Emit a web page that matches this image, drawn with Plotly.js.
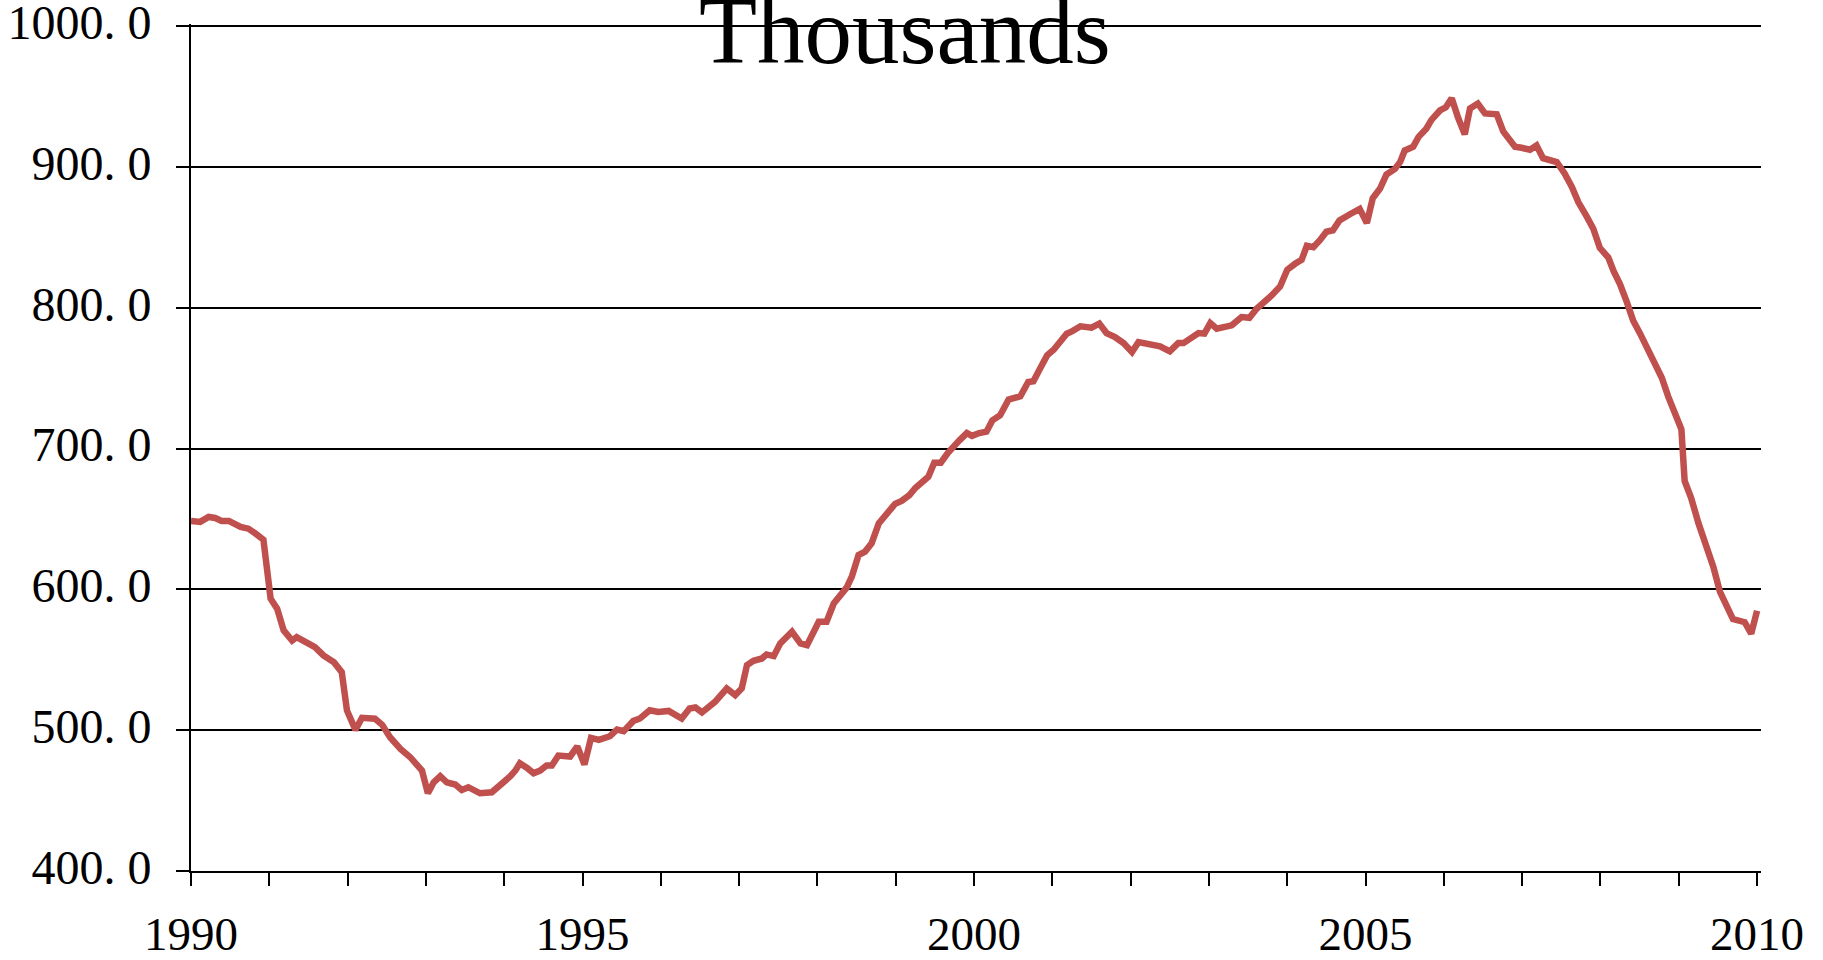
<!DOCTYPE html>
<html>
<head>
<meta charset="utf-8">
<script src="https://cdn.plot.ly/plotly-3.0.1.min.js"></script>
<style>
  html, body { margin: 0; padding: 0; background: #ffffff; }
  #chart { width: 1823px; height: 960px; }
</style>
</head>
<body>
<div id="chart"></div>
<script>
// Months elapsed since January 1990
const monthsSince1990 = [
  0.0, 1.4, 2.7, 3.7, 4.7, 5.8, 7.6, 8.8, 9.9, 11.1,
  12.2, 13.2, 14.2, 15.5, 16.2, 17.8, 19.0, 20.3, 21.9, 23.1,
  23.9, 25.2, 26.2, 28.2, 29.3, 30.5, 32.1, 33.6, 34.6, 35.4,
  36.3, 37.2, 38.2, 39.2, 40.5, 41.5, 42.5, 44.3, 46.1, 47.4,
  48.9, 49.7, 50.4, 51.5, 52.5, 53.5, 54.5, 55.3, 56.3, 58.1,
  59.2, 60.3, 61.3, 62.5, 64.2, 65.3, 66.3, 67.8, 68.8, 70.3,
  71.6, 73.2, 75.2, 76.4, 77.3, 78.3, 80.3, 82.1, 83.4, 84.4,
  85.2, 86.2, 87.5, 88.2, 89.3, 90.3, 92.1, 93.4, 94.4, 96.2,
  97.4, 98.5, 99.5, 100.5, 101.3, 102.3, 103.3, 104.3, 105.4, 106.4,
  107.9, 108.9, 110.1, 111.0, 111.9, 113.0, 113.9, 114.9, 116.0, 116.9,
  117.8, 118.9, 119.7, 120.8, 121.9, 122.8, 124.0, 125.3, 127.1, 128.3,
  129.1, 130.1, 131.2, 132.2, 134.2, 135.0, 136.3, 138.0, 139.2, 140.3,
  141.6, 142.9, 144.2, 145.2, 146.5, 147.5, 148.5, 150.0, 151.3, 152.1,
  153.4, 154.4, 155.3, 156.2, 157.2, 158.7, 159.5, 161.0, 162.2, 163.3,
  164.3, 165.6, 166.9, 168.0, 169.2, 170.2, 171.0, 172.0, 173.0, 174.0,
  175.0, 176.0, 177.6, 179.1, 180.2, 181.1, 182.2, 183.2, 184.5, 185.3,
  186.0, 187.3, 188.1, 189.3, 190.1, 191.4, 192.3, 193.2, 194.2, 195.2,
  196.0, 197.2, 198.3, 200.1, 201.1, 202.9, 203.9, 205.2, 206.2, 207.2,
  209.3, 210.5, 211.6, 212.6, 213.9, 214.9, 215.9, 217.2, 218.0, 219.0,
  220.0, 221.0, 222.0, 223.1, 224.1, 225.4, 226.4, 227.4, 228.4, 228.9,
  229.9, 231.0, 232.2, 233.3, 234.3, 235.3, 236.3, 238.1, 239.1, 240.0
];

// Values, thousands
const thousands = [
  648.6, 647.9, 651.4, 650.7, 648.6, 648.6, 644.3, 643.1, 639.6, 635.3,
  593.4, 586.3, 570.9, 563.7, 566.1, 562.1, 559.0, 553.1, 548.3, 541.2,
  514.0, 500.2, 508.8, 508.1, 503.8, 495.0, 486.7, 480.8, 476.1, 471.3,
  455.2, 463.0, 467.3, 463.0, 461.4, 457.6, 459.5, 455.2, 455.9, 460.7,
  467.1, 471.3, 476.5, 473.2, 469.4, 471.3, 474.9, 474.9, 482.0, 481.3,
  488.4, 475.6, 494.5, 493.1, 495.7, 500.5, 499.3, 506.6, 508.3, 514.2,
  513.0, 513.7, 508.3, 515.4, 516.1, 512.6, 520.1, 529.6, 524.9, 529.6,
  546.2, 549.3, 550.9, 553.8, 552.6, 561.6, 569.9, 561.6, 560.4, 577.0,
  577.0, 590.0, 595.3, 601.4, 609.5, 624.4, 626.8, 632.7, 646.9, 652.8,
  660.7, 662.8, 667.0, 672.0, 676.0, 680.0, 690.0, 690.0, 697.0, 702.0,
  706.0, 711.0, 709.0, 711.0, 712.0, 720.0, 723.6, 734.8, 737.1, 747.3,
  747.8, 756.7, 766.2, 770.2, 781.6, 783.2, 786.8, 785.8, 788.7, 782.0,
  779.2, 774.9, 768.6, 775.6, 774.5, 772.8, 772.6, 769.0, 774.9, 774.9,
  779.2, 782.0, 781.6, 789.1, 785.1, 786.8, 787.5, 793.4, 792.9, 799.3,
  802.8, 808.7, 815.1, 827.0, 831.2, 834.0, 844.0, 843.0, 848.0, 854.0,
  855.0, 862.0, 866.4, 870.2, 860.1, 877.8, 884.5, 894.6, 898.6, 903.5,
  911.7, 914.4, 921.2, 927.1, 933.4, 940.1, 942.3, 948.8, 934.7, 923.1,
  941.5, 945.0, 938.0, 937.4, 925.2, 914.4, 913.6, 912.2, 915.2, 906.2,
  903.5, 895.4, 885.9, 875.0, 864.7, 856.1, 842.5, 835.7, 826.2, 816.7,
  804.5, 791.0, 782.3, 772.0, 761.1, 750.3, 736.7, 724.5, 713.7, 677.0,
  664.9, 647.2, 631.0, 616.0, 598.4, 587.6, 578.9, 576.7, 568.6, 584.8
];

const yTickVals = [400, 500, 600, 700, 800, 900, 1000];
const yTickText = ["400. 0", "500. 0", "600. 0", "700. 0", "800. 0", "900. 0", "1000. 0"];
const xTickVals = [1990,1991,1992,1993,1994,1995,1996,1997,1998,1999,2000,
                   2001,2002,2003,2004,2005,2006,2007,2008,2009,2010];
const xTickText = ["1990","","","","","1995","","","","","2000",
                   "","","","","2005","","","","","2010"];
const titleText = "Thousands";

const xYears = monthsSince1990.map(m => 1990 + m / 12);

const serif = "Liberation Serif, Times New Roman, serif";

const trace = {
  x: xYears,
  y: thousands,
  type: "scatter",
  mode: "lines",
  line: { color: "#C0504D", width: 6.5 },
  hoverinfo: "skip",
  cliponaxis: false
};

const layout = {
  width: 1823,
  height: 960,
  margin: { l: 191, r: 62, t: 23.5, b: 89, pad: 0 },
  paper_bgcolor: "#ffffff",
  plot_bgcolor: "#ffffff",
  showlegend: false,
  font: { family: serif, color: "#000000", size: 46 },
  xaxis: {
    range: [1990, 2010.05],
    tickmode: "array",
    tickvals: xTickVals,
    ticktext: xTickText,
    ticks: "outside",
    ticklen: 13,
    tickwidth: 2,
    tickcolor: "#000000",
    showline: true,
    linecolor: "#000000",
    linewidth: 2,
    showgrid: false,
    zeroline: false,
    ticklabelstandoff: 8,
    ticklabeloverflow: "allow",
    tickfont: { family: serif, size: 47, color: "#000000" },
    fixedrange: true
  },
  yaxis: {
    range: [400, 1001.5],
    tickmode: "array",
    tickvals: yTickVals,
    ticktext: yTickText,
    ticks: "outside",
    ticklen: 13,
    tickwidth: 2,
    tickcolor: "#000000",
    showline: true,
    linecolor: "#000000",
    linewidth: 2,
    showgrid: true,
    gridcolor: "#000000",
    gridwidth: 2,
    zeroline: false,
    ticklabelstandoff: 15,
    ticklabelshift: -4,
    ticklabeloverflow: "allow",
    tickfont: { family: serif, size: 48, color: "#000000" },
    fixedrange: true
  },
  annotations: [{
    text: titleText,
    xref: "paper", yref: "paper",
    x: 0.455, y: 1,
    xanchor: "center", yanchor: "middle",
    yshift: -6.5,
    showarrow: false,
    font: { family: serif, size: 95, color: "#000000" }
  }]
};

Plotly.newPlot("chart", [trace], layout, { displayModeBar: false, staticPlot: true });
</script>
</body>
</html>
